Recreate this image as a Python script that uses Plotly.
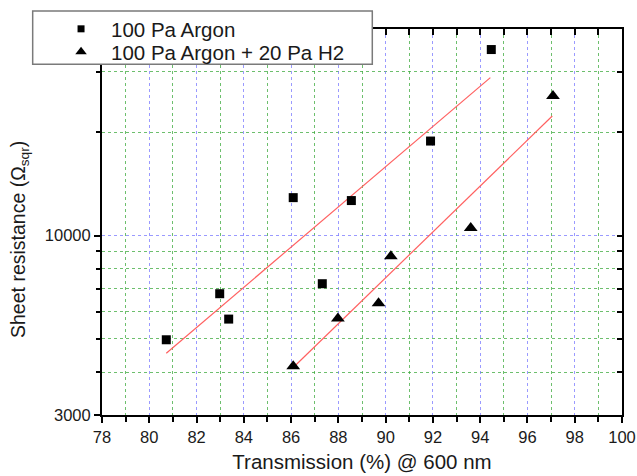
import plotly.graph_objects as go

# ---- data ----
argon_x = [80.72, 82.98, 83.36, 86.09, 87.32, 88.55, 91.9, 94.47]
argon_y = [4970, 6770, 5710, 12900, 7240, 12650, 18860, 34850]

h2_x = [86.09, 87.98, 89.7, 90.22, 93.6, 97.08]
h2_y = [4160, 5730, 6350, 8700, 10520, 25530]

fit_argon_x = [80.72, 94.43]
fit_argon_y = [4540, 28870]
fit_h2_x = [86.09, 97.05]
fit_h2_y = [4125, 22310]

x_major = [78, 80, 82, 84, 86, 88, 90, 92, 94, 96, 98, 100]
x_minor = [79, 81, 83, 85, 87, 89, 91, 93, 95, 97, 99]
y_major = [3000, 10000]
y_minor = [4000, 5000, 6000, 7000, 8000, 9000, 20000, 30000]
y_all = [3000, 4000, 5000, 6000, 7000, 8000, 9000, 10000, 20000, 30000]

FONT = "Liberation Sans, Arial, sans-serif"
BLUE = "rgba(120,120,255,0.75)"
GREEN = "rgba(60,170,60,0.75)"
RED = "#ff6060"

fig = go.Figure()

fig.add_trace(go.Scatter(x=fit_argon_x, y=fit_argon_y, mode="lines",
                         line=dict(color=RED, width=1.2), showlegend=False, hoverinfo="skip"))
fig.add_trace(go.Scatter(x=fit_h2_x, y=fit_h2_y, mode="lines",
                         line=dict(color=RED, width=1.2), showlegend=False, hoverinfo="skip"))

fig.add_trace(go.Scatter(x=argon_x, y=argon_y, mode="markers",
                         marker=dict(symbol="square", size=9, color="black"),
                         showlegend=False))
fig.add_trace(go.Scatter(x=h2_x, y=h2_y, mode="markers",
                         marker=dict(symbol="triangle-up", size=12, color="black"),
                         showlegend=False))

# legend-only entries (smaller symbols as in the reference legend)
fig.add_trace(go.Scatter(x=[None], y=[None], mode="markers", name="100 Pa Argon",
                         marker=dict(symbol="square", size=7, color="black"), legend="legend"))
fig.add_trace(go.Scatter(x=[None], y=[None], mode="markers", name="100 Pa Argon + 20 Pa H2",
                         marker=dict(symbol="triangle-up", size=10, color="black"), legend="legend2"))

# secondary axes for inward top/right ticks
fig.add_trace(go.Scatter(x=[None], y=[None], xaxis="x2", yaxis="y2", showlegend=False))

ax_font = dict(family=FONT, size=16.5, color="#1a1a1a")
title_font = dict(family=FONT, size=20.5, color="#1a1a1a")

leg_common = dict(
    xanchor="left", yanchor="middle", xref="paper", yref="paper",
    bgcolor="rgba(0,0,0,0)", borderwidth=0,
    font=dict(family=FONT, size=20.5, color="#1a1a1a"),
    itemwidth=50,
)

fig.update_layout(
    width=637, height=476,
    margin=dict(l=102, r=15, t=29, b=61, autoexpand=False),
    paper_bgcolor="white", plot_bgcolor="white",
    font=dict(family=FONT, color="#1a1a1a"),
    xaxis=dict(
        range=[78, 100], tickmode="array", tickvals=x_major,
        ticks="outside", ticklen=6, tickwidth=1.5, tickcolor="black",
        showline=True, linecolor="black", linewidth=2,
        showgrid=True, gridcolor=BLUE, griddash="dot", gridwidth=1,
        zeroline=False, tickfont=ax_font,
        title=dict(text="Transmission (%) @ 600 nm", font=title_font, standoff=10),
        minor=dict(tickmode="array", tickvals=x_minor, ticks="outside", ticklen=5,
                   tickwidth=1.5, tickcolor="black",
                   showgrid=True, gridcolor=GREEN, griddash="dot", gridwidth=1),
        automargin=False,
    ),
    yaxis=dict(
        type="log", range=[3.4771, 4.6021], tickmode="array", tickvals=y_major,
        ticktext=["3000", "10000"],
        ticks="outside", ticklen=6, tickwidth=1.5, tickcolor="black",
        showline=True, linecolor="black", linewidth=2,
        showgrid=True, gridcolor=BLUE, griddash="dot", gridwidth=1,
        zeroline=False, tickfont=ax_font,
        minor=dict(tickmode="array", tickvals=y_minor, ticks="outside", ticklen=4,
                   tickwidth=1.5, tickcolor="black",
                   showgrid=True, gridcolor=GREEN, griddash="dot", gridwidth=1),
        automargin=False,
    ),
    xaxis2=dict(
        overlaying="x", side="top", range=[78, 100], tickmode="array",
        tickvals=x_major + x_minor, ticks="inside", ticklen=6, tickwidth=1.5, tickcolor="black",
        showticklabels=False, showline=True, linecolor="black", linewidth=1.5,
        showgrid=False, zeroline=False,
    ),
    yaxis2=dict(
        overlaying="y", side="right", type="log", range=[3.4771, 4.6021], tickmode="array",
        tickvals=y_all, ticks="inside", ticklen=5, tickwidth=1.5, tickcolor="black",
        showticklabels=False, showline=True, linecolor="black", linewidth=1.5,
        showgrid=False, zeroline=False,
    ),
    legend=dict(x=-0.098, y=1.0, **leg_common),
    legend2=dict(x=-0.098, y=0.9404, **leg_common),
    shapes=[dict(
        type="rect", xref="paper", yref="paper",
        x0=-0.1333, x1=0.5198, y0=0.9085, y1=1.0466,
        fillcolor="white", line=dict(color="#7a7a7a", width=1.5), layer="above",
    )],
    annotations=[dict(
        text="Sheet resistance (Ω<sub>sqr</sub>)", textangle=-90,
        xref="paper", yref="paper", x=-0.1577, y=0.456,
        xanchor="center", yanchor="middle", showarrow=False,
        font=dict(family=FONT, size=19.5, color="#1a1a1a"),
    )],
    showlegend=True,
)

fig.write_html("out.html", config={"displayModeBar": False},
               post_script="document.body.style.margin='0';")
